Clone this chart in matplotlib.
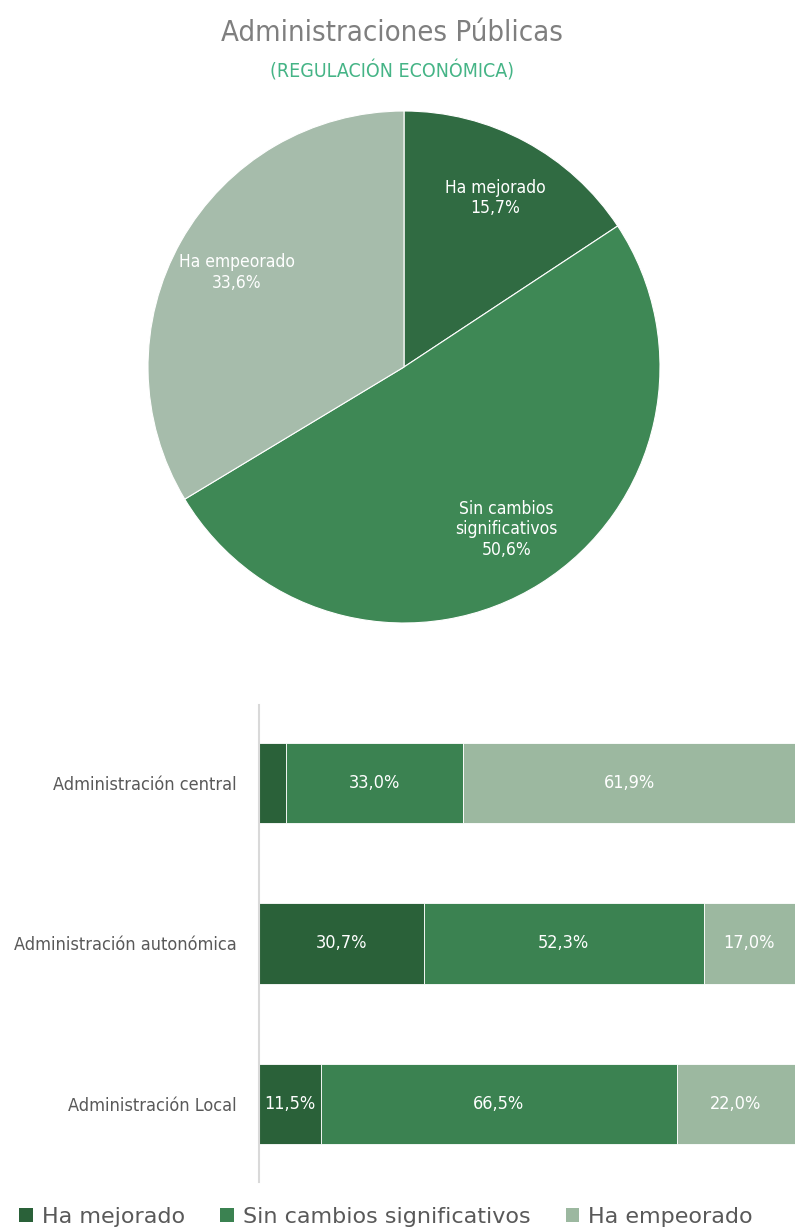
import matplotlib.pyplot as plt
from matplotlib import font_manager
from matplotlib.patches import Patch

# data
pie_labels = ['Ha mejorado', 'Sin cambios\nsignificativos', 'Ha empeorado']
pie_values = [15.7, 50.6, 33.6]

admins = ['Administración central', 'Administración autonómica', 'Administración Local']
mejorado = [5.1, 30.7, 11.5]
sin_cambios = [33.0, 52.3, 66.5]
empeorado = [61.9, 17.0, 22.0]
series_names = ['Ha mejorado', 'Sin cambios significativos', 'Ha empeorado']

pie_colors = ['#306B42', '#3E8855', '#A6BCAB']
bar_colors = ['#2A6139', '#3B8251', '#9CB8A0']

# condensed font if there is one
names = {f.name for f in font_manager.fontManager.ttflist}
if 'Liberation Sans Narrow' in names:
    narrow = dict(family='Liberation Sans Narrow')
else:
    narrow = dict(family='DejaVu Sans', stretch='condensed')

W, H = 795, 1228
fig = plt.figure(figsize=(W / 100, H / 100), dpi=100)


def fx(x):
    return x / W


def fy(y):
    return 1 - y / H


# titles
fig.text(fx(392), fy(33), 'Administraciones Públicas', ha='center', va='center',
         fontsize=21, color='#7F7F7F', **narrow)
fig.text(fx(392), fy(71), '(REGULACIÓN ECONÓMICA)', ha='center', va='center',
         fontsize=14, color='#45B486', **narrow)

# pie
cx, cy, r = 404, 367, 256
ax_pie = fig.add_axes([fx(cx - r), fy(cy + r), 2 * r / W, 2 * r / H])
txt = [f'{l}\n{str(v).replace(".", ",")}%' for l, v in zip(pie_labels, pie_values)]
wedges, texts = ax_pie.pie(pie_values, labels=txt, colors=pie_colors, startangle=90,
                           counterclock=False, labeldistance=0.75,
                           wedgeprops=dict(linewidth=0.8, edgecolor='white'),
                           textprops=dict(color='white', fontsize=12.5, ha='center',
                                          va='center', multialignment='center',
                                          linespacing=1.2, **narrow))
for t in texts:
    t.set_horizontalalignment('center')
ax_pie.set_xlim(-1, 1)
ax_pie.set_ylim(-1, 1)
ax_pie.set_aspect('equal')

# stacked bars
ax = fig.add_axes([fx(259), fy(1182), (W - 259) / W, (1182 - 705) / H])
y = list(range(len(admins)))
left = [0] * len(admins)
for vals, col in zip([mejorado, sin_cambios, empeorado], bar_colors):
    bars = ax.barh(y, vals, left=left, height=0.5, color=col, edgecolor='white', linewidth=0.6)
    for b, v, l in zip(bars, vals, left):
        if v >= 10:
            ax.text(l + v / 2, b.get_y() + b.get_height() / 2, f'{v:.1f}%'.replace('.', ','),
                    ha='center', va='center', color='white', fontsize=13, **narrow)
    left = [a + b for a, b in zip(left, vals)]

ax.set_xlim(0, 100)
ax.set_ylim(2.49, -0.49)
ax.set_yticks(y)
ax.set_yticklabels(admins, fontsize=13, color='#595959', **narrow)
ax.tick_params(axis='y', length=0, pad=16)
ax.set_xticks([])
for s in ['top', 'right', 'bottom']:
    ax.spines[s].set_visible(False)
ax.spines['left'].set_color('#D9D9D9')
ax.spines['left'].set_linewidth(1.5)

# legend
handles = [Patch(facecolor=c, edgecolor='none') for c in bar_colors]
fig.legend(handles, series_names, loc='center', bbox_to_anchor=(fx(386), fy(1217)),
           ncol=3, frameon=False, handlelength=0.6, handleheight=0.6, handletextpad=0.4,
           columnspacing=1.6, prop=dict(size=16), labelcolor='#595959')

fig.savefig('out.png', dpi=100)
